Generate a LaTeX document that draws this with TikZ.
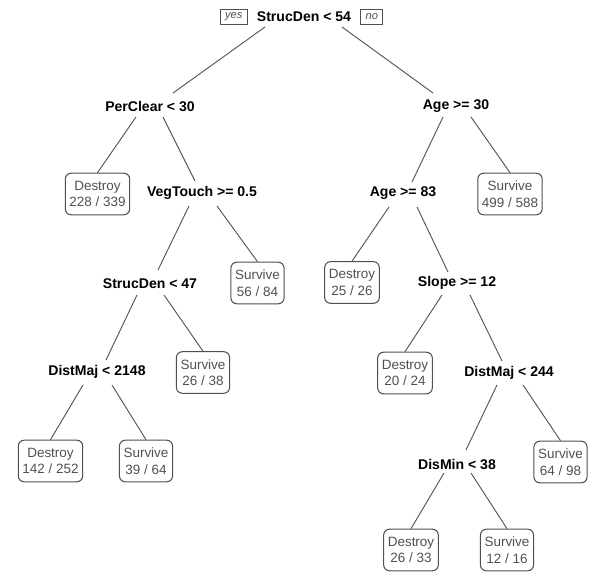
\documentclass[tikz,border=0pt]{standalone}
\usepackage{fontspec}
\setmainfont{Liberation Sans}
\usepackage{xcolor}
\definecolor{edgeGray}{HTML}{555555}
\definecolor{leafGray}{HTML}{505050}
\usepackage{tikz}
\usetikzlibrary{positioning,calc}
\tikzset{%
  splitLabel/.style={%
    font=\fontsize{12}{14}\selectfont\bfseries,
    inner sep=1pt
  },
  leafBox/.style={%
    rectangle,
    rounded corners=5pt,
    draw=leafGray,
    line width=0.9pt,
    text=leafGray,
    align=center,
    font=\fontsize{11.5}{14}\selectfont,
    inner xsep=3.5pt,
    inner ysep=3pt,
    minimum height=35.5pt
  },
  yesNo/.style={%
    rectangle,
    draw=leafGray,
    line width=0.7pt,
    text=leafGray,
    font=\fontsize{9.5}{10}\selectfont\itshape,
    inner xsep=4pt,
    inner ysep=1.5pt,
    minimum height=12.5pt
  },
  branchLine/.style={%
    draw=edgeGray,
    line width=0.8pt
  }
}

\begin{document}
\begin{tikzpicture}[x=0.03cm, y=-0.03cm]
  \useasboundingbox (0,0) rectangle (589,572);

  % split nodes
  \node[splitLabel] (root) at (304,17) {StrucDen < 54};
  \node[yesNo, left=0.24cm of root] (yes) {yes};
  \node[yesNo, right=0.24cm of root] (no) {no};
  \node[splitLabel] (perclear) at (150,106) {PerClear < 30};
  \node[splitLabel] (ageA) at (456,106) {Age >= 30};
  \node[splitLabel] (vegtouch) at (202,193) {VegTouch >= 0.5};
  \node[splitLabel] (ageB) at (403,193) {Age >= 83};
  \node[splitLabel] (strucden) at (150,284) {StrucDen < 47};
  \node[splitLabel] (slope) at (457,283) {Slope >= 12};
  \node[splitLabel] (distmajA) at (97,372) {DistMaj < 2148};
  \node[splitLabel] (distmajB) at (509,373) {DistMaj < 244};
  \node[splitLabel] (dismin) at (457,464) {DisMin < 38};

  % leaves
  \node[leafBox] (leafA) at (97.5,194) {Destroy\\228 / 339};
  \node[leafBox] (leafB) at (510,194) {Survive\\499 / 588};
  \node[leafBox] (leafC) at (257.5,283) {Survive\\56 / 84};
  \node[leafBox] (leafD) at (352,282.5) {Destroy\\25 / 26};
  \node[leafBox] (leafE) at (203,372.5) {Survive\\26 / 38};
  \node[leafBox] (leafF) at (405,373) {Destroy\\20 / 24};
  \node[leafBox] (leafG) at (50.5,461) {Destroy\\142 / 252};
  \node[leafBox] (leafH) at (146,461) {Survive\\39 / 64};
  \node[leafBox] (leafI) at (560.5,462) {Survive\\64 / 98};
  \node[leafBox] (leafJ) at (411,550) {Destroy\\26 / 33};
  \node[leafBox] (leafK) at (507,550) {Survive\\12 / 16};

  % branches
  \draw[branchLine] ($(root)+(-39,10)$) -- ($(perclear)+(23,-13)$);
  \draw[branchLine] ($(root)+(38,10)$) -- ($(ageA)+(-23,-13)$);
  \draw[branchLine] ($(perclear)+(-14,11)$) -- (leafA.north);
  \draw[branchLine] ($(perclear)+(13,11)$) -- ($(vegtouch)+(-7,-12)$);
  \draw[branchLine] ($(ageA)+(-13,11)$) -- ($(ageB)+(9,-11)$);
  \draw[branchLine] ($(ageA)+(15,11)$) -- (leafB.north);
  \draw[branchLine] ($(vegtouch)+(-13,13)$) -- ($(strucden)+(8,-14)$);
  \draw[branchLine] ($(vegtouch)+(15,13)$) -- (leafC.north);
  \draw[branchLine] ($(ageB)+(-14,14)$) -- (leafD.north);
  \draw[branchLine] ($(ageB)+(14,14)$) -- ($(slope)+(-9,-11)$);
  \draw[branchLine] ($(strucden)+(-13,11)$) -- ($(distmajA)+(9,-12)$);
  \draw[branchLine] ($(strucden)+(14,11)$) -- (leafE.north);
  \draw[branchLine] ($(slope)+(-15,12)$) -- (leafF.north);
  \draw[branchLine] ($(slope)+(13,12)$) -- ($(distmajB)+(-7,-12)$);
  \draw[branchLine] ($(distmajA)+(-14,13)$) -- (leafG.north);
  \draw[branchLine] ($(distmajA)+(15,13)$) -- (leafH.north);
  \draw[branchLine] ($(distmajB)+(-12,12)$) -- ($(dismin)+(9,-14)$);
  \draw[branchLine] ($(distmajB)+(14,12)$) -- (leafI.north);
  \draw[branchLine] ($(dismin)+(-13,9)$) -- (leafJ.north);
  \draw[branchLine] ($(dismin)+(14,9)$) -- (leafK.north);
\end{tikzpicture}
\end{document}
